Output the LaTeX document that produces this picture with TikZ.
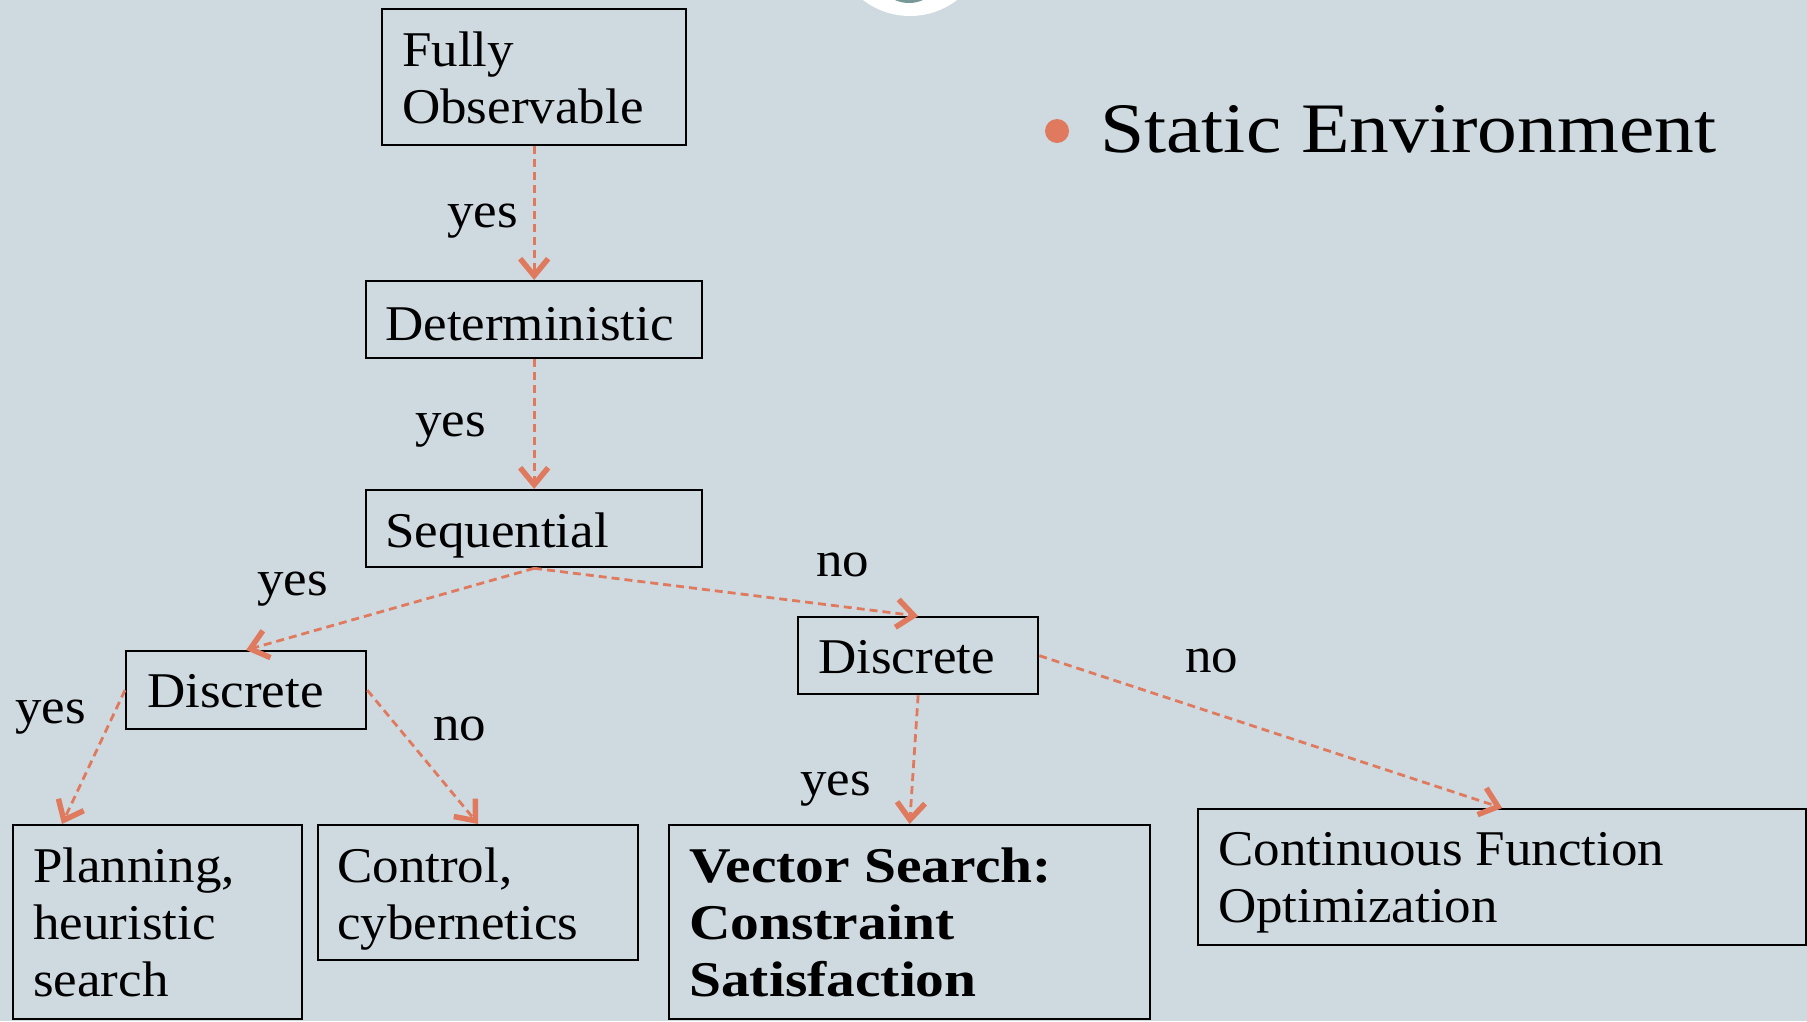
\documentclass[tikz,border=0pt]{standalone}
\usepackage{fontspec}
\setmainfont[FakeStretch=1.06]{Liberation Serif}
\newfontfamily\headfont[FakeStretch=1.12]{Liberation Serif}
\newfontfamily\vecfont[FakeStretch=1.15]{Liberation Serif}
\usetikzlibrary{arrows.meta,calc}
\definecolor{slate}{RGB}{207,218,224}
\definecolor{coral}{RGB}{224,122,94}
\definecolor{logoteal}{RGB}{120,152,152}
\tikzset{
  box/.style={draw=black, line width=2.3pt, inner sep=0pt, anchor=north west},
  % multi-line texts are placed by the baseline of their last line
  txt/.style={inner sep=0pt, anchor=base west, align=left, font=\fontsize{50}{57}\selectfont},
  lbl/.style={inner sep=0pt, anchor=base west, font=\fontsize{50}{57}\selectfont},
  link/.style={draw=coral, line width=2.8pt, dash pattern=on 8pt off 5pt,
    -{Straight Barb[length=17pt,width=28pt,line width=5.5pt]}},
}
\begin{document}
\begin{tikzpicture}[x=1pt, y=-1pt]
  % canvas
  \fill[slate] (0,0) rectangle (1807,1021);
  \useasboundingbox (0,0) rectangle (1807,1021);

  % emblem peeking in at the top edge
  \fill[white] (910,-61) circle[radius=77pt];
  \fill[logoteal] (909,-31) circle[radius=34pt];

  % heading with bullet
  \fill[coral] (1057,131) circle[radius=12pt];
  \node[inner sep=0pt, anchor=base west, font=\headfont\fontsize{71}{80}\selectfont] (title) at (1100,152) {Static Environment};

  % decision boxes
  \node[box, minimum width=304pt, minimum height=136pt] (fo)   at (381,8)   {};
  \node[box, minimum width=336pt, minimum height=77pt]  (det)  at (365,280) {};
  \node[box, minimum width=336pt, minimum height=77pt]  (seq)  at (365,489) {};
  \node[box, minimum width=240pt, minimum height=78pt]  (dl)   at (125,650) {};
  \node[box, minimum width=240pt, minimum height=77pt]  (dr)   at (797,616) {};
  % outcome boxes
  \node[box, minimum width=289pt, minimum height=194pt] (plan) at (12,824)  {};
  \node[box, minimum width=320pt, minimum height=135pt] (ctrl) at (317,824) {};
  \node[box, minimum width=481pt, minimum height=194pt] (vec)  at (668,824) {};
  \node[box, minimum width=608pt, minimum height=136pt] (cont) at (1197,808) {};

  % box texts
  \node[txt] (fotxt)   at (402,123) {Fully\\Observable};
  \node[txt] (dettxt)  at (385,340) {Deterministic};
  \node[txt] (seqtxt)  at (385,547) {Sequential};
  \node[txt] (dltxt)   at (147,707) {Discrete};
  \node[txt] (drtxt)   at (818,673) {Discrete};
  \node[txt] (plantxt) at (33,996)  {Planning,\\heuristic\\search};
  \node[txt] (ctrltxt) at (337,939) {Control,\\cybernetics};
  \node[txt, font=\vecfont\bfseries\fontsize{50}{57}\selectfont] (vectxt) at (689,996) {Vector Search:\\Constraint\\Satisfaction};
  \node[txt] (conttxt) at (1218,922) {Continuous Function\\Optimization};

  % connectors
  \draw[link] (fo.south)  -- (det.north);
  \draw[link] (det.south) -- (seq.north);
  \draw[link] (seq.south) -- (dl.north);
  \draw[link] (seq.south) -- (dr.north);
  \draw[link] (dl.west)   -- ($(plan.north west)+(50,0)$);
  \draw[link] (dl.east)   -- (ctrl.north);
  \draw[link] (dr.south)  -- (vec.north);
  \draw[link] (dr.east)   -- (cont.north);

  % answer labels
  \node[lbl] (l1) at (447,227) {yes};
  \node[lbl] (l2) at (415,436) {yes};
  \node[lbl] (l3) at (257,595) {yes};
  \node[lbl] (l4) at (816,576) {no};
  \node[lbl] (l5) at (15,723)  {yes};
  \node[lbl] (l6) at (433,740) {no};
  \node[lbl] (l7) at (1185,672) {no};
  \node[lbl] (l8) at (800,795) {yes};
\end{tikzpicture}
\end{document}
